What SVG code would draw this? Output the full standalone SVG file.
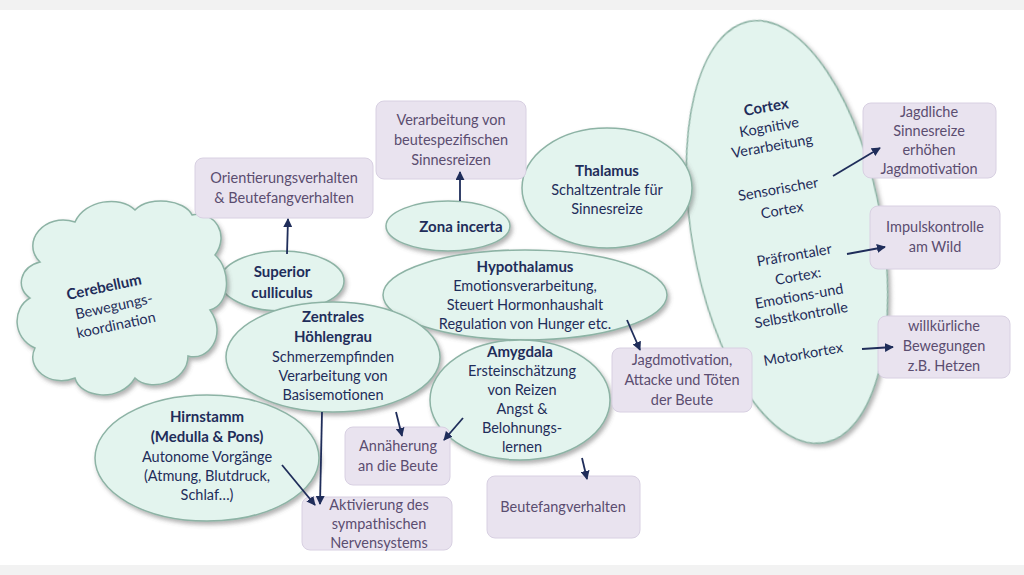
<svg xmlns="http://www.w3.org/2000/svg" width="1024" height="575" viewBox="0 0 1024 575">
<defs>
<filter id="sh" x="-20%" y="-20%" width="140%" height="140%"><feDropShadow dx="2" dy="3" stdDeviation="2" flood-color="#555" flood-opacity="0.45"/></filter>
<marker id="ar" viewBox="0 0 10 10" refX="9" refY="5" markerWidth="5" markerHeight="5" orient="auto"><path d="M0,0 L10,5 L0,10 z" fill="#1f2d5a"/></marker>
<style>
.el{fill:#e3f4ee;stroke:#8db3a5;stroke-width:1.5;filter:url(#sh)}
.bx{fill:#e9e3ef;stroke:#d8d0e2;stroke-width:1}
text{font-family:Lato,"Open Sans",sans-serif;font-size:14.5px;text-anchor:middle}
.t{fill:#1f2d5a}
.b{font-weight:bold;font-size:15px}
.p{fill:#5b4d70}
.c{stroke:#1f2d5a;stroke-width:1.8;fill:none;marker-end:url(#ar)}
</style>
</defs>
<rect width="1024" height="575" fill="#fff"/>
<rect width="1024" height="10" fill="#f2f2f2"/>
<rect y="565" width="1024" height="10" fill="#f2f2f2"/>
<g id="cortex"><ellipse class="el" cx="787" cy="232" rx="95" ry="214" transform="rotate(-10 787 232)"/>
<text x="767" y="112" class="b t" transform="rotate(-10 767 112)">Cortex</text>
<text x="770" y="132" class="t" transform="rotate(-10 770 132)">Kognitive</text>
<text x="773" y="151" class="t" transform="rotate(-10 773 151)">Verarbeitung</text>
<text x="779" y="194" class="t" font-size="15.5" transform="rotate(-10 779 194)">Sensorischer</text>
<text x="783" y="215" class="t" font-size="15.5" transform="rotate(-10 783 215)">Cortex</text>
<text x="795" y="260" class="t" font-size="15.5" transform="rotate(-10 795 260)">Präfrontaler</text>
<text x="799" y="281" class="t" font-size="15.5" transform="rotate(-10 799 281)">Cortex:</text>
<text x="800" y="301" class="t" transform="rotate(-10 800 301)">Emotions-und</text>
<text x="802" y="320" class="t" transform="rotate(-10 802 320)">Selbstkontrolle</text>
<text x="804" y="359" class="t" font-size="15.5" transform="rotate(-10 804 359)">Motorkortex</text></g>
<g id="thalamus"><ellipse class="el" cx="607" cy="188" rx="85" ry="60"/><text x="607" y="176" class="b t">Thalamus</text><text x="607" y="195" class="t">Schaltzentrale für</text><text x="607" y="214" class="t">Sinnesreize</text></g>
<g id="zona"><ellipse class="el" cx="448" cy="226" rx="62" ry="25"/><text x="461" y="232" class="b t">Zona incerta</text></g>
<g id="hypo"><ellipse class="el" cx="525" cy="295" rx="142" ry="45"/><text x="525" y="272" class="b t">Hypothalamus</text><text x="525" y="291" class="t">Emotionsverarbeitung,</text><text x="525" y="310" class="t">Steuert Hormonhaushalt</text><text x="525" y="329" class="t">Regulation von Hunger etc.</text></g>
<g id="sc"><ellipse class="el" cx="282" cy="281" rx="62" ry="30"/><text x="282" y="277" class="b t">Superior</text><text x="282" y="298" class="b t">culliculus</text></g>
<g id="zh"><ellipse class="el" cx="333" cy="357" rx="107" ry="55"/><text x="333" y="322" class="b t">Zentrales</text><text x="333" y="342" class="b t">Höhlengrau</text><text x="333" y="362" class="t">Schmerzempfinden</text><text x="333" y="381" class="t">Verarbeitung von</text><text x="333" y="400" class="t">Basisemotionen</text></g>
<g id="amy"><ellipse class="el" cx="520" cy="400" rx="90" ry="60"/><text x="520" y="357" class="b t">Amygdala</text><text x="522" y="376" class="t">Ersteinschätzung</text><text x="522" y="395" class="t">von Reizen</text><text x="522" y="414" class="t">Angst &amp;</text><text x="522" y="433" class="t">Belohnungs-</text><text x="522" y="452" class="t">lernen</text></g>
<g id="hirn"><ellipse class="el" cx="207" cy="458" rx="112" ry="63"/><text x="207" y="422" class="b t">Hirnstamm</text><text x="207" y="442" class="b t">(Medulla &amp; Pons)</text><text x="207" y="462" class="t">Autonome Vorgänge</text><text x="207" y="481" class="t">(Atmung, Blutdruck,</text><text x="207" y="500" class="t">Schlaf…)</text></g>
<g id="cerebellum"><path class="el" d="M40,262 C20,242 45,212 75,222 C85,200 120,195 135,210 C150,195 185,200 192,215 C215,210 230,235 215,255 C232,270 230,305 210,310 C228,335 208,362 188,356 C188,382 150,393 135,378 C120,403 80,398 75,378 C50,388 25,368 35,348 C12,338 12,308 30,298 C15,288 20,267 40,262 Z"/>
<text x="105" y="292" class="b t" font-size="16" transform="rotate(-12 105 292)">Cerebellum</text>
<text x="115" y="311" class="t" transform="rotate(-12 115 311)">Bewegungs-</text>
<text x="117" y="330" class="t" transform="rotate(-12 117 330)">koordination</text></g>
<g id="boxes">
<rect class="bx" x="195" y="158" width="178" height="60" rx="8"/><text x="284" y="183" class="p">Orientierungsverhalten</text><text x="284" y="203" class="p">&amp; Beutefangverhalten</text>
<rect class="bx" x="376" y="101" width="150" height="78" rx="8"/><text x="451" y="125" class="p">Verarbeitung von</text><text x="451" y="145" class="p">beutespezifischen</text><text x="451" y="165" class="p">Sinnesreizen</text>
<rect class="bx" x="863" y="103" width="133" height="75" rx="8"/><text x="929" y="117" class="p">Jagdliche</text><text x="929" y="136" class="p">Sinnesreize</text><text x="929" y="155" class="p">erhöhen</text><text x="929" y="174" class="p">Jagdmotivation</text>
<rect class="bx" x="870" y="206" width="130" height="63" rx="8"/><text x="935" y="232" class="p">Impulskontrolle</text><text x="935" y="252" class="p">am Wild</text>
<rect class="bx" x="878" y="316" width="132" height="62" rx="8"/><text x="944" y="331" class="p">willkürliche</text><text x="944" y="351" class="p">Bewegungen</text><text x="944" y="371" class="p">z.B. Hetzen</text>
<rect class="bx" x="612" y="348" width="140" height="64" rx="8"/><text x="682" y="365" class="p">Jagdmotivation,</text><text x="682" y="385" class="p">Attacke und Töten</text><text x="682" y="405" class="p">der Beute</text>
<rect class="bx" x="345" y="427" width="105" height="58" rx="8"/><text x="398" y="451" class="p">Annäherung</text><text x="398" y="471" class="p">an die Beute</text>
<rect class="bx" x="302" y="497" width="150" height="53" rx="8"/><text x="379" y="510" class="p">Aktivierung des</text><text x="379" y="529" class="p">sympathischen</text><text x="379" y="548" class="p">Nervensystems</text>
<rect class="bx" x="487" y="476" width="153" height="62" rx="8"/><text x="563" y="512" class="p">Beutefangverhalten</text>
</g>
<g id="connectors">
<line class="c" x1="287" y1="254" x2="288" y2="219"/>
<line class="c" x1="460" y1="201" x2="460" y2="172"/>
<line class="c" x1="627" y1="320" x2="640" y2="350"/>
<line class="c" x1="322" y1="412" x2="320" y2="504"/>
<line class="c" x1="282" y1="465" x2="315" y2="505"/>
<line class="c" x1="396" y1="412" x2="402" y2="436"/>
<line class="c" x1="463" y1="418" x2="444" y2="440"/>
<line class="c" x1="582" y1="458" x2="587" y2="479"/>
<line class="c" x1="833" y1="176" x2="880" y2="148"/>
<line class="c" x1="847" y1="254" x2="885" y2="247"/>
<line class="c" x1="862" y1="349" x2="893" y2="347"/>
</g>
</svg>
